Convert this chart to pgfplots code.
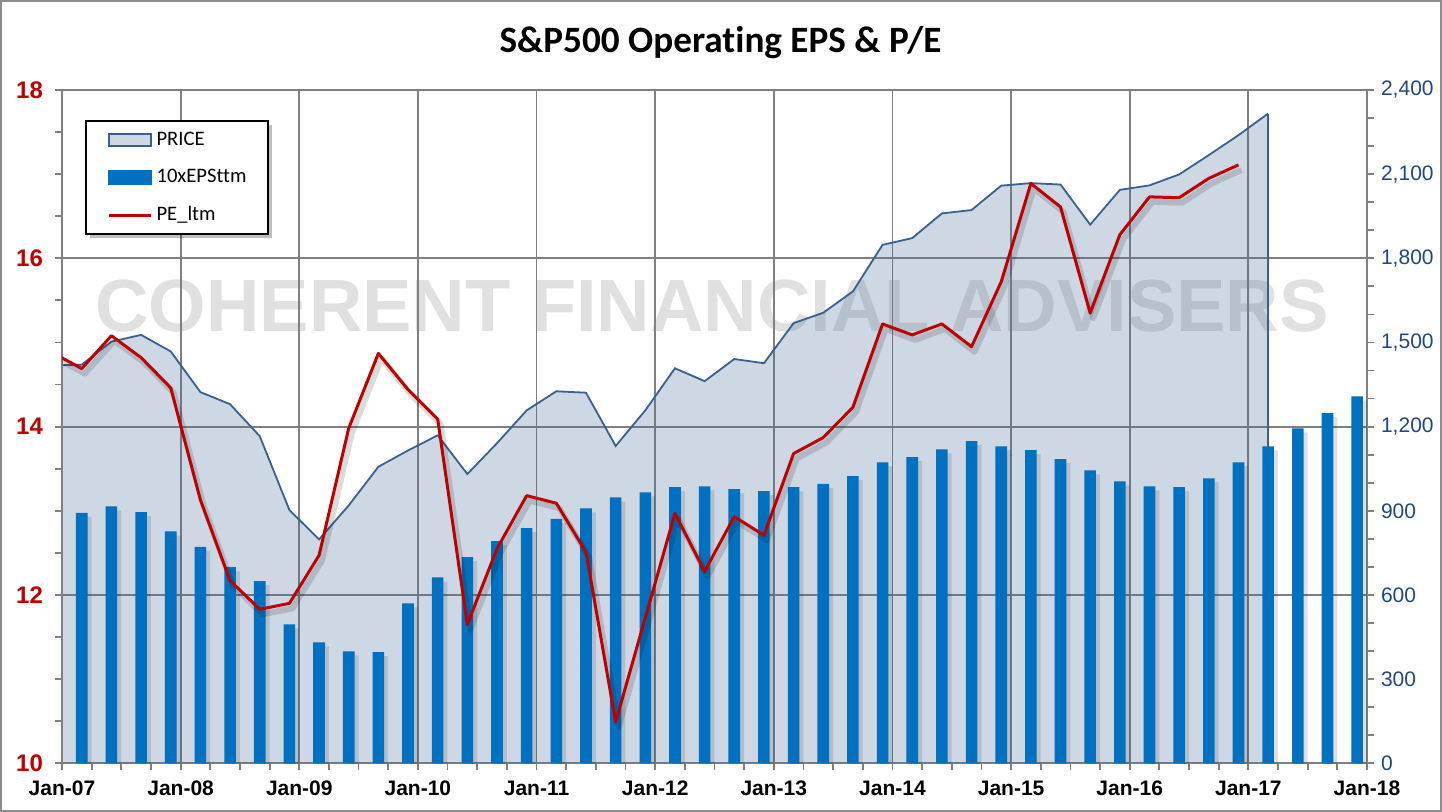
\documentclass[border=0pt]{standalone}
\usepackage{fontspec}
\setmainfont{Liberation Sans}
\newfontfamily\calibri[Ligatures=NoCommon]{Carlito}
\usepackage{pgfplots}
\usepackage{pgfplotstable}
\pgfplotsset{compat=1.18}
\usetikzlibrary{shadows}

\makeatletter
\tikzset{no preactions/.code={\let\tikz@preactions\pgfutil@empty}}
\makeatother

\definecolor{gridgray}{HTML}{808080}
\definecolor{bordergray}{HTML}{8C8C8C}
\definecolor{barblue}{HTML}{0070C0}
\definecolor{areablue}{HTML}{3F6A9A}
\definecolor{priceblue}{HTML}{3B6090}
\definecolor{pered}{HTML}{C00000}
\definecolor{rblue}{HTML}{1F497D}
\definecolor{wmgray}{HTML}{E0E0E0}

% month index: 0 = Jan-07
\pgfplotstableread{
m    p
-1   1418
2    1421
5    1503
8    1527
11   1468
14   1323
17   1280
20   1166
23   903
26   798
29   919
32   1057
35   1115
38   1169
41   1031
44   1141
47   1258
50   1326
53   1321
56   1131
59   1258
62   1408
65   1362
68   1441
71   1426
74   1569
77   1606
80   1682
83   1848
86   1872
89   1960
92   1972
95   2059
98   2068
101  2063
104  1920
107  2044
110  2060
113  2099
116  2168
119  2239
122  2316
}\pricetable

\pgfplotstableread{
m    eps
2    893
5    916
8    895
11   827
14   771
17   699
20   649
23   495
26   431
29   399
32   396
35   570
38   663
41   735
44   792
47   838
50   871
53   909
56   948
59   966
62   984
65   987
68   977
71   970
74   984
77   996
80   1024
83   1073
86   1091
89   1119
92   1148
95   1130
98   1116
101  1084
104  1044
107  1005
110  987
113  984
116  1016
119  1073
122  1130
125  1194
128  1248
131  1308
}\epstable

\pgfplotstableread{
m    pe
-1   14.88
2    14.69
5    15.08
8    14.82
11   14.46
14   13.13
17   12.17
20   11.83
23   11.90
26   12.47
29   13.98
32   14.87
35   14.44
38   14.09
41   11.65
44   12.55
47   13.18
50   13.09
53   12.51
56   10.49
59   11.73
62   12.97
65   12.28
68   12.93
71   12.71
74   13.68
77   13.87
80   14.23
83   15.22
86   15.09
89   15.22
92   14.95
95   15.72
98   16.89
101  16.61
104  15.35
107  16.28
110  16.73
113  16.72
116  16.95
119  17.11
}\petable

\pgfplotsset{
  common/.style={
    at={(31pt,24.35pt)}, anchor=south west,
    scale only axis, width=652.5pt, height=336.65pt,
    xmin=0, xmax=132,
    axis line style={draw=gridgray, line width=0.9pt, -},
    tick align=outside,
    major tick length=3.5pt, minor tick length=3.5pt,
    tick style={draw=gridgray, line width=0.9pt},
    /pgf/number format/assume math mode=true,
    /pgf/number format/1000 sep={,},
  }
}

\begin{document}
\begin{tikzpicture}
\path[use as bounding box] (0,0) rectangle (721pt,406pt);
\fill[white] (0,0) rectangle (721pt,406pt);

% watermark
\node[font=\bfseries\fontsize{37}{40}\selectfont, text=wmgray] at (356pt,253pt) {COHERENT FINANCIAL ADVISERS};

% right scale: price and 10x EPS
\begin{axis}[common,
  ymin=0, ymax=2400,
  axis x line*=bottom, axis y line*=right,
  xtick={0,12,...,132},
  xticklabels={Jan-07,Jan-08,Jan-09,Jan-10,Jan-11,Jan-12,Jan-13,Jan-14,Jan-15,Jan-16,Jan-17,Jan-18},
  minor xtick={0,3,...,132},
  ytick={0,600,...,2400},
  extra y ticks={300,900,1500,2100},
  extra y tick style={grid=none},
  minor ytick={0,100,...,2400},
  grid=major,
  major grid style={draw=gridgray, line width=0.9pt},
  xticklabel style={font=\bfseries\fontsize{10.5}{12}\selectfont, text=black, yshift=-1.8pt},
  yticklabel style={font=\fontsize{10.5}{12}\selectfont, text=rblue},
]
\addplot[fill=areablue, fill opacity=0.26, draw=none] table[x=m, y=p] {\pricetable} \closedcycle;
\addplot[draw=priceblue, line width=0.9pt] table[x=m, y=p] {\pricetable};
\addplot[draw=priceblue, line width=0.9pt] coordinates {(122,2316) (122,0)};
\addplot[ybar, bar width=5.8pt, bar shift=2pt, yshift=-2pt, fill=black, fill opacity=0.12, draw=none] table[x=m, y=eps] {\epstable};
\addplot[ybar, bar width=5.8pt, bar shift=0pt, fill=barblue, draw=none] table[x=m, y=eps] {\epstable};
\end{axis}

% left scale: P/E
\begin{axis}[common,
  ymin=10, ymax=18,
  axis x line=none, axis y line*=left,
  ytick={10,12,...,18},
  minor ytick={10,10.5,...,18},
  yticklabel style={font=\bfseries\fontsize{12}{14}\selectfont, text=pered, xshift=-2.5pt},
  legend cell align=left,
  legend style={at={(0.0176,0.9554)}, anchor=north west,
    draw=black, line width=1pt, fill=white,
    font=\calibri\fontsize{10.3}{12}\selectfont,
    inner xsep=10.8pt, inner ysep=5pt, row sep=9.85pt, column sep=2pt,
    nodes={inner sep=0pt, text height=7pt, text depth=2pt},
    drop shadow={shadow xshift=2pt, shadow yshift=-2pt, fill=black, opacity=0.25}},
]
\addlegendimage{legend image code/.code={\draw[no preactions, fill=areablue, fill opacity=0.26, draw=priceblue, line width=0.9pt] (0pt,-3pt) rectangle (21pt,3pt);}}
\addlegendentry{PRICE}
\addlegendimage{legend image code/.code={\fill[no preactions, barblue] (0pt,-3.3pt) rectangle (21pt,3.3pt);}}
\addlegendentry{10xEPSttm}
\addplot[forget plot, draw=black, draw opacity=0.14, line width=3pt, xshift=1.5pt, yshift=-2.5pt, line join=round] table[x=m, y=pe] {\petable};
\addplot[draw=pered, line width=1.5pt, line join=round,
  legend image code/.code={\draw[no preactions, pered, line width=1.5pt] (0pt,0pt) -- (21pt,0pt);}] table[x=m, y=pe] {\petable};
\addlegendentry{PE\_ltm}
\end{axis}

\node[anchor=base, font=\calibri\bfseries\fontsize{18.6}{22}\selectfont] at (360.25pt,379.5pt) {S\&P500 Operating EPS \& P/E};
\draw[draw=bordergray, line width=1pt] (0.5pt,0.5pt) rectangle (720.5pt,405.5pt);
\end{tikzpicture}
\end{document}
